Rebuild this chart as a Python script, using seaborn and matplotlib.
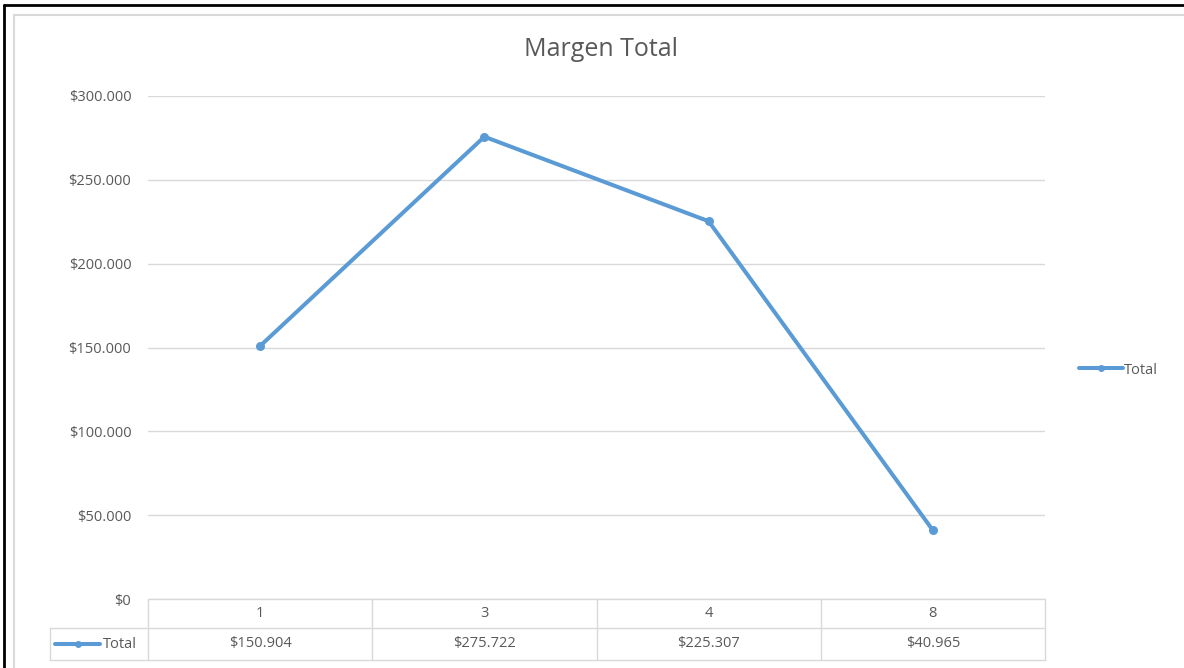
import matplotlib.pyplot as plt
import matplotlib.ticker as mticker
from matplotlib.lines import Line2D
import pandas as pd
import seaborn as sns

# data
categories = ["1", "3", "4", "8"]
totals = [150904, 275722, 225307, 40965]
series_name = "Total"
title = "Margen Total"
y_ticks = [0, 50000, 100000, 150000, 200000, 250000, 300000]

LINE = "#5B9BD5"
GRID = "#D9D9D9"
TEXT = "#595959"
FS = 10.5


def money(v, pos=None):
    return "$" + f"{v:,.0f}".replace(",", ".")


df = pd.DataFrame({"pos": range(len(categories)), "value": totals})

sns.set_style("white")
plt.rcParams["font.family"] = ["Open Sans", "DejaVu Sans"]

fig = plt.figure(figsize=(11.84, 6.68), dpi=100)
ax = fig.add_axes([148 / 1184, 1 - 599 / 668, (1045 - 148) / 1184, (599 - 96) / 668])

sns.lineplot(data=df, x="pos", y="value", ax=ax, color=LINE, linewidth=2.9,
             marker="o", markersize=6.5, markeredgewidth=0, label=series_name,
             legend=False)

ax.set_xlim(-0.5, len(categories) - 0.5)
ax.set_ylim(y_ticks[0], y_ticks[-1])
ax.set_yticks(y_ticks)
ax.yaxis.set_major_formatter(mticker.FuncFormatter(money))
ax.set_xticks([])
ax.set_xlabel("")
ax.set_ylabel("")
ax.grid(True, axis="y", color=GRID, linewidth=1)
ax.tick_params(axis="y", length=0, pad=12, labelsize=FS, labelcolor=TEXT)
for s in ax.spines.values():
    s.set_visible(False)

# data table under the plot
trans = ax.get_xaxis_transform()
r1, r2 = -29 / 503, -61 / 503
x_head = -0.5 - 98 / 224
n = len(categories)
kw = dict(transform=trans, clip_on=False, color=GRID, linewidth=1)
ax.plot([-0.5, n - 0.5], [0, 0], **kw)
ax.plot([x_head, n - 0.5], [r1, r1], **kw)
ax.plot([x_head, n - 0.5], [r2, r2], **kw)
ax.plot([x_head, x_head], [r1, r2], **kw)
for i in range(n + 1):
    ax.plot([i - 0.5, i - 0.5], [0, r2], **kw)
for i, (c, v) in enumerate(zip(categories, totals)):
    ax.text(i, r1 / 2, c, transform=trans, ha="center", va="center",
            fontsize=FS, color=TEXT)
    ax.text(i, (r1 + r2) / 2, money(v), transform=trans, ha="center",
            va="center", fontsize=FS, color=TEXT)
# legend key in the table header cell
ym = (r1 + r2) / 2
ax.plot([x_head + 0.025, x_head + 0.225], [ym, ym], transform=trans,
        clip_on=False, color=LINE, linewidth=2.9)
ax.plot([x_head + 0.125], [ym], transform=trans, clip_on=False, color=LINE,
        marker="o", markersize=5, markeredgewidth=0)
ax.text(x_head + 0.235, ym, series_name, transform=trans, ha="left",
        va="center", fontsize=FS, color=TEXT)

# legend at right
handle = Line2D([], [], color=LINE, linewidth=2.9, marker="o",
                markersize=5, markeredgewidth=0)
fig.legend([handle], [series_name], loc="center left",
           bbox_to_anchor=(1066 / 1184, 1 - 370 / 668), frameon=False,
           fontsize=FS, labelcolor=TEXT, handlelength=3.0, handletextpad=0.1)

fig.text(601 / 1184, 1 - 50 / 668, title, ha="center", va="center",
         fontsize=18, color=TEXT)

# window frame
fig.add_artist(Line2D([4 / 1184, 1], [1 - 5 / 668] * 2, color="black", linewidth=2))
fig.add_artist(Line2D([4 / 1184] * 2, [0, 1 - 5 / 668], color="black", linewidth=2))
fig.add_artist(Line2D([14 / 1184, 1], [1 - 15 / 668] * 2, color=GRID, linewidth=1.5))
fig.add_artist(Line2D([14 / 1184] * 2, [0, 1 - 15 / 668], color=GRID, linewidth=1.5))

fig.savefig("out.png", dpi=100, facecolor="white")
